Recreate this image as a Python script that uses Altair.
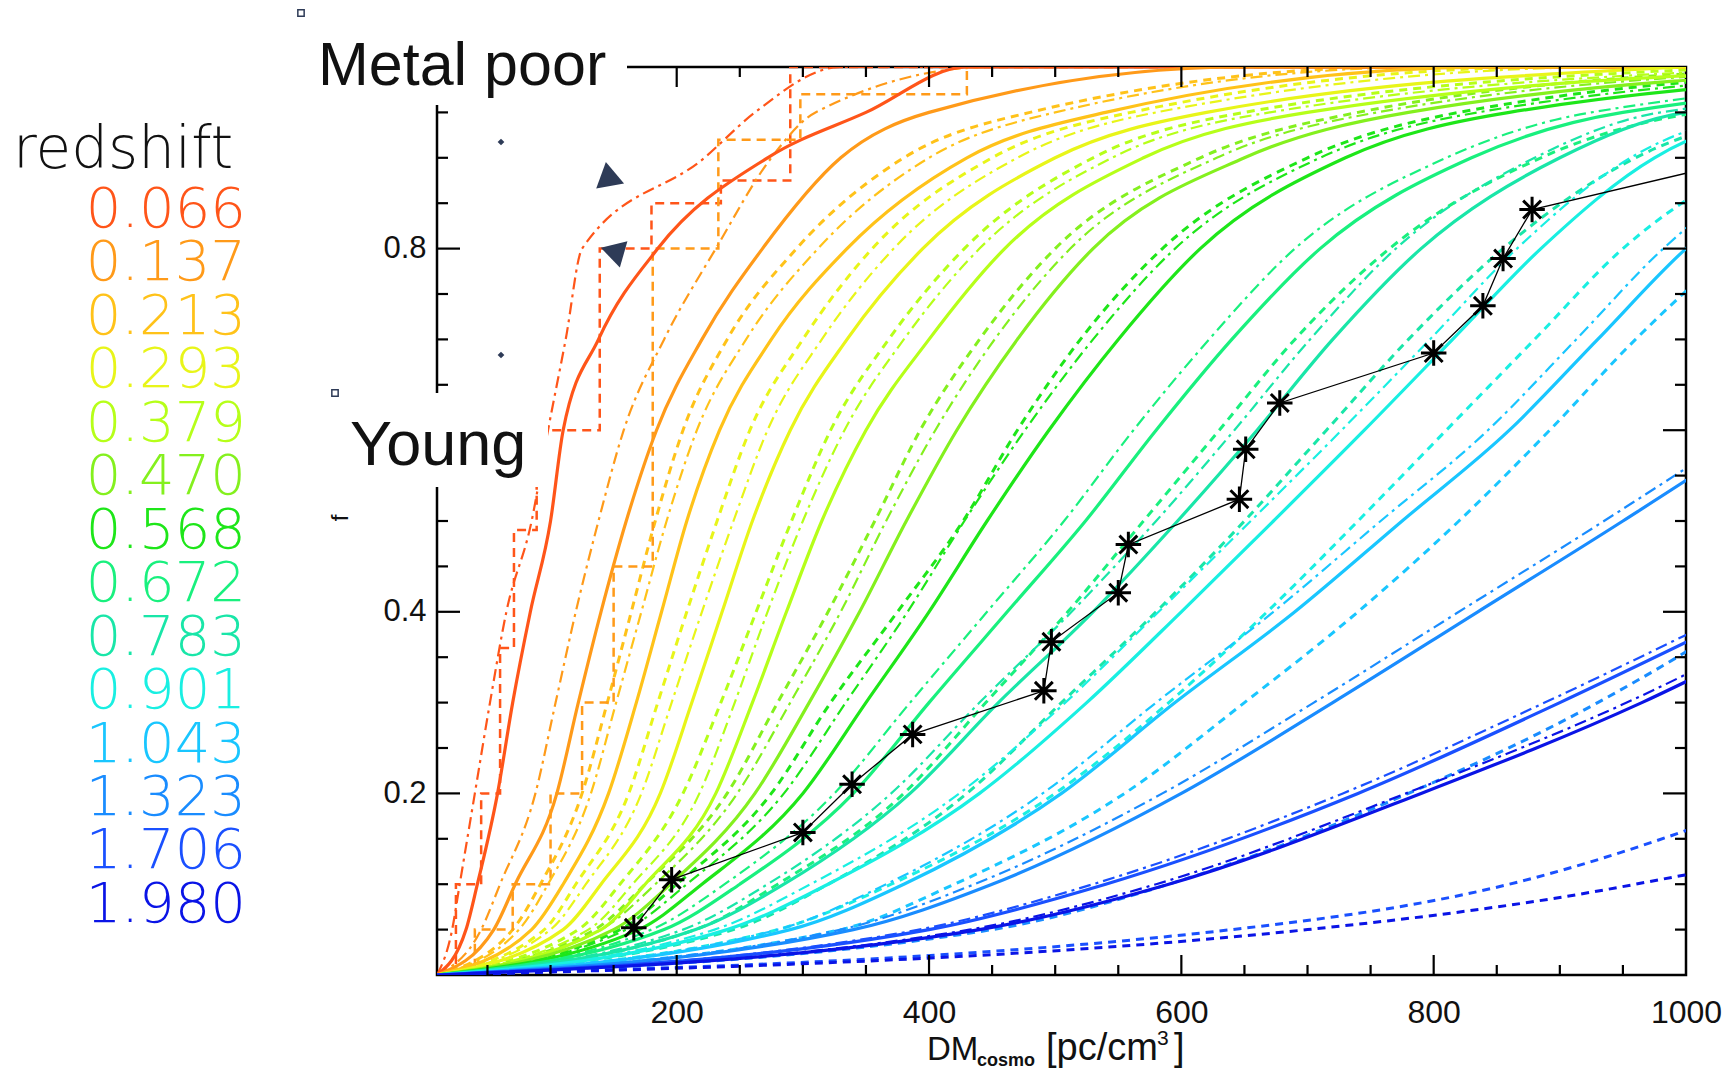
import altair as alt
import pandas as pd

# ---------------- data ----------------
REDSHIFTS = ["0.066", "0.137", "0.213", "0.293", "0.379", "0.470", "0.568",
             "0.672", "0.783", "0.901", "1.043", "1.323", "1.706", "1.980"]
COLORS = ["#ff5519", "#ff9a19", "#ffc219", "#e8f519", "#b6ff19", "#84f01e",
          "#1ee619", "#19f07e", "#19e6a8", "#19efe2", "#19c6ff", "#198cff",
          "#1a50ff", "#0a14e6"]

# cumulative fraction levels at which DM values were read
F_LEVELS = [0, 0.05, 0.1, 0.2, 0.3, 0.4, 0.5, 0.6, 0.7, 0.8, 0.9, 0.95, 1.0]

SOLID_DM = [
    [10, 33, 42, 58, 70, 84, 100, 110, 138, 185, 272, 350, 430],
    [10, 55, 72, 105, 122, 140, 160, 184, 220, 268, 330, 400, 650],
    [10, 85, 110, 146, 168, 188, 208, 234, 275, 335, 430, 540, 850],
    [10, 110, 140, 187, 212, 236, 260, 290, 335, 395, 500, 620, 1000],
    [10, 140, 175, 231, 260, 287, 315, 350, 400, 460, 570, 700, 1150],
    [10, 150, 195, 262, 305, 345, 382, 422, 470, 530, 650, 780, 1200],
    [10, 170, 220, 300, 350, 400, 446, 495, 550, 615, 730, 860, 1300],
    [10, 190, 250, 340, 400, 462, 524, 580, 640, 710, 830, 950, 1400],
    [10, 215, 285, 385, 455, 530, 597, 660, 720, 790, 900, 1000, 1500],
    [10, 240, 320, 440, 525, 600, 673, 745, 815, 885, 975, 1080, 1600],
    [10, 290, 380, 505, 595, 690, 775, 860, 930, 1000, 1100, 1250, 1800],
    [10, 340, 450, 600, 720, 835, 950, 1060, 1160, 1260, 1400, 1550, 2000],
    [10, 400, 540, 740, 900, 1050, 1200, 1330, 1450, 1560, 1700, 1850, 2300],
    [10, 440, 590, 790, 965, 1110, 1250, 1380, 1500, 1620, 1780, 1900, 2400],
]

DASHDOT_DM = [
    [10, 22, 28, 40, 52, 65, 85, 98, 112, 125, 222, 262, 330],
    [10, 45, 60, 88, 104, 120, 138, 158, 190, 231, 275, 310, 450],
    [10, 75, 98, 132, 152, 172, 192, 216, 255, 312, 400, 500, 800],
    [10, 100, 128, 172, 196, 220, 245, 272, 315, 372, 470, 580, 950],
    [10, 130, 165, 218, 246, 272, 300, 333, 380, 440, 545, 670, 1100],
    [10, 140, 183, 248, 290, 330, 366, 405, 452, 512, 628, 755, 1150],
    [10, 160, 208, 285, 334, 383, 428, 476, 530, 595, 710, 835, 1250],
    [10, 180, 238, 325, 385, 446, 507, 562, 622, 690, 810, 925, 1350],
    [10, 205, 272, 370, 440, 513, 580, 642, 702, 770, 880, 980, 1450],
    [10, 230, 306, 424, 508, 582, 655, 727, 797, 866, 956, 1060, 1550],
    [10, 280, 366, 490, 580, 673, 758, 843, 913, 982, 1080, 1230, 1750],
    [10, 330, 436, 585, 705, 820, 935, 1045, 1145, 1245, 1385, 1535, 1980],
    [10, 392, 530, 728, 888, 1038, 1188, 1318, 1438, 1548, 1690, 1840, 2290],
    [10, 432, 580, 778, 953, 1098, 1238, 1368, 1488, 1608, 1770, 1890, 2390],
]

# dashed curves for z >= 0.213 (smooth)
DASHED_DM = [
    None,
    None,
    [10, 70, 92, 125, 145, 164, 183, 205, 240, 295, 380, 480, 780],
    [10, 95, 120, 162, 185, 208, 232, 258, 300, 355, 450, 560, 900],
    [10, 122, 155, 205, 235, 263, 291, 322, 368, 428, 530, 650, 1050],
    [10, 135, 175, 240, 280, 320, 357, 393, 440, 500, 615, 740, 1100],
    [10, 155, 200, 275, 322, 375, 427, 470, 520, 585, 700, 820, 1200],
    [10, 215, 280, 380, 445, 510, 570, 630, 690, 765, 885, 1010, 1500],
    [10, 245, 320, 430, 505, 580, 650, 715, 780, 855, 960, 1080, 1600],
    [10, 280, 370, 500, 590, 668, 740, 810, 880, 950, 1060, 1180, 1700],
    [10, 330, 420, 555, 650, 740, 820, 892, 960, 1040, 1180, 1330, 1850],
    [10, 450, 590, 780, 930, 1050, 1150, 1250, 1350, 1450, 1600, 1750, 2200],
    [10, 640, 860, 1080, 1250, 1380, 1500, 1600, 1700, 1800, 1950, 2050, 2500],
    [10, 700, 960, 1250, 1400, 1550, 1650, 1750, 1850, 1950, 2100, 2200, 2600],
]

# step-like dashed curves for the two lowest redshifts
STEP0_DM = [10, 25, 45, 60, 71, 89, 139, 180, 235, 290]
STEP0_F = [0, 0.1, 0.2, 0.36, 0.49, 0.6, 0.8, 0.85, 0.875, 1.0]
STEP1_DM = [10, 40, 70, 100, 125, 150, 181, 233, 298, 430]
STEP1_F = [0, 0.05, 0.1, 0.2, 0.3, 0.45, 0.8, 0.92, 0.97, 1.0]

# black line with asterisks
STAR_DM = [166, 196, 300, 339, 387, 491, 497, 550, 558, 646, 651, 678, 800, 839, 855, 878]
STAR_F = [0.052, 0.105, 0.157, 0.21, 0.265, 0.313, 0.367, 0.421, 0.474, 0.524,
          0.579, 0.63, 0.685, 0.737, 0.789, 0.843]
LINE_END_DM = [1000]
LINE_END_F = [0.883]

X_MAJOR = [200, 400, 600, 800, 1000]
Y_MAJOR = [0.2, 0.4, 0.6, 0.8]
Y_LABELS = [0.2, 0.4, 0.8]  # 0.6 and 1.0 are hidden behind the white boxes

# ---------------- layout ----------------
W, H = 1249, 908
FONT = "Liberation Sans"


def curve_rows(lists, style, levels):
    rows = []
    for i, xs in enumerate(lists):
        if xs is None:
            continue
        for x, f in zip(xs, levels):
            rows.append({"dm": x, "f": f, "z": REDSHIFTS[i], "cid": f"{style}{i}"})
        if xs[-1] < 1000:
            rows.append({"dm": 1000, "f": 1.0, "z": REDSHIFTS[i], "cid": f"{style}{i}"})
    return pd.DataFrame(rows)


solid_df = curve_rows(SOLID_DM, "s", F_LEVELS)
dashdot_df = curve_rows(DASHDOT_DM, "d", F_LEVELS)
dashed_df = curve_rows(DASHED_DM, "a", F_LEVELS)

step_rows = []
for i, (xs, fs) in enumerate([(STEP0_DM, STEP0_F), (STEP1_DM, STEP1_F)]):
    for x, f in zip(xs, fs):
        step_rows.append({"dm": x, "f": f, "z": REDSHIFTS[i], "cid": f"t{i}"})
    step_rows.append({"dm": 1000, "f": 1.0, "z": REDSHIFTS[i], "cid": f"t{i}"})
step_df = pd.DataFrame(step_rows)

star_df = pd.DataFrame({"dm": STAR_DM, "f": STAR_F})
line_df = pd.DataFrame({"dm": STAR_DM + LINE_END_DM, "f": STAR_F + LINE_END_F})

X_ENC = alt.X("dm:Q", scale=alt.Scale(domain=[10, 1000], nice=False, zero=False),
              axis=alt.Axis(values=X_MAJOR, format="d", tickSize=0, domain=False,
                            grid=False, labelFont=FONT, labelFontSize=32,
                            labelPadding=22, labelFlush=False,
                            labelColor="#111111", title=None))
Y_ENC = alt.Y("f:Q", scale=alt.Scale(domain=[0, 1], nice=False, zero=False),
              axis=alt.Axis(values=Y_LABELS, format=".1f", tickSize=0, domain=False,
                            grid=False, labelFont=FONT, labelFontSize=31,
                            labelPadding=11, labelColor="#111111", title=None))
C_ENC = alt.Color("z:N", scale=alt.Scale(domain=REDSHIFTS, range=COLORS), legend=None)

dashed = alt.Chart(dashed_df).mark_line(
    clip=True, interpolate="monotone", strokeWidth=3, strokeDash=[8, 6]
).encode(x=X_ENC, y=Y_ENC, color=C_ENC, detail="cid:N")

steps = alt.Chart(step_df).mark_line(
    clip=True, interpolate="step-after", strokeWidth=2.5, strokeDash=[9, 6]
).encode(x=X_ENC, y=Y_ENC, color=C_ENC, detail="cid:N")

dashdot = alt.Chart(dashdot_df).mark_line(
    clip=True, interpolate="monotone", strokeWidth=2.2, strokeDash=[12, 5, 3, 5]
).encode(x=X_ENC, y=Y_ENC, color=C_ENC, detail="cid:N")

solid = alt.Chart(solid_df).mark_line(
    clip=True, interpolate="monotone", strokeWidth=3.2
).encode(x=X_ENC, y=Y_ENC, color=C_ENC, detail="cid:N")

black_line = alt.Chart(line_df).mark_line(
    clip=True, color="black", strokeWidth=1.3
).encode(x=X_ENC, y=Y_ENC)

ASTERISK = "M-1,0L1,0M0,-1L0,1M-0.7,-0.7L0.7,0.7M-0.7,0.7L0.7,-0.7"
stars = alt.Chart(star_df).mark_point(
    shape=ASTERISK, filled=False, color="black", strokeWidth=3, size=650, opacity=1
).encode(x=X_ENC, y=Y_ENC)

# ---------- inward ticks ----------
x_minor = [v for v in range(50, 1000, 50) if v % 200 != 0]
y_minor = [round(v * 0.05, 2) for v in range(1, 20) if v % 4 != 0]
xmaj_df = pd.DataFrame({"dm": X_MAJOR[:-1]})
xmin_df = pd.DataFrame({"dm": x_minor})
ymaj_df = pd.DataFrame({"f": Y_MAJOR})
ymin_df = pd.DataFrame({"f": y_minor})

tick_layers = []
for df, L in [(xmaj_df, 20), (xmin_df, 10)]:
    tick_layers.append(alt.Chart(df).mark_rule(color="black", strokeWidth=2.2).encode(
        x=X_ENC, y=alt.value(H), y2=alt.value(H - L)))
    tick_layers.append(alt.Chart(df).mark_rule(color="black", strokeWidth=2.2).encode(
        x=X_ENC, y=alt.value(0), y2=alt.value(L)))
for df, L in [(ymaj_df, 23), (ymin_df, 11)]:
    tick_layers.append(alt.Chart(df).mark_rule(color="black", strokeWidth=2.2).encode(
        y=Y_ENC, x=alt.value(0), x2=alt.value(L)))
    tick_layers.append(alt.Chart(df).mark_rule(color="black", strokeWidth=2.2).encode(
        y=Y_ENC, x=alt.value(W - L), x2=alt.value(W)))

one = pd.DataFrame({"k": [0]})


def box(x1, x2, y1, y2):
    return alt.Chart(one).mark_rect(fill="white").encode(
        x=alt.value(x1), x2=alt.value(x2), y=alt.value(y1), y2=alt.value(y2))


def txt(s, x, y, size, color="#111111", font=FONT, weight="normal", align="left",
        angle=0, baseline="alphabetic"):
    return alt.Chart(one).mark_text(
        text=s, font=font, fontSize=size, fontWeight=weight, color=color,
        align=align, baseline=baseline, angle=angle
    ).encode(x=alt.value(x), y=alt.value(y))


def sym(shape, x, y, size, filled=True, angle=0, color="#2e3b57", sw=1.5):
    return alt.Chart(one).mark_point(
        shape=shape, size=size, filled=filled, color=color, angle=angle,
        strokeWidth=sw, opacity=1
    ).encode(x=alt.value(x), y=alt.value(y))


annot = [
    box(-136, 190, -54, 38),
    box(-102, 111, 326, 420),
    txt("Metal poor", -119, 18, 61),
    txt("Young", -87, 398, 63),
    txt("redshift", -424, 101, 58, color="#111111", font="DejaVu Sans", weight=200),
]
for i, (lab, col) in enumerate(zip(REDSHIFTS, COLORS)):
    annot.append(txt(lab, -191, 160 + i * 53.45, 56, color=col, font="DejaVu Sans",
                     weight=200, align="right"))

# axis titles
annot += [
    txt("f", -96, 451, 24, align="center", angle=270, baseline="middle"),
    txt("DM", 490, 993, 33),
    txt("cosmo", 540, 999, 18, weight="bold"),
    txt("[pc/cm", 609, 993, 38),
    txt("3", 720, 978, 21),
    txt("]", 737, 993, 38),
]

# decorative markers
annot += [
    sym("triangle-up", 171, 107, 800, angle=350),
    sym("triangle-down", 180, 189, 750, angle=346),
    sym("diamond", 64, 75, 45),
    sym("diamond", 64, 288, 45),
    sym("square", -136, -54, 40, filled=False),
    sym("square", -102, 326, 40, filled=False),
]

chart = alt.layer(
    dashed, steps, dashdot, solid, *tick_layers, black_line, stars, *annot
).properties(
    width=W, height=H,
    autosize=alt.AutoSizeParams(type="none"),
    padding={"left": 429, "top": 59, "right": 40, "bottom": 94},
    background="white",
).configure_view(
    stroke="black", strokeWidth=2.5
)

chart.save("out.html", embed_options={"renderer": "svg", "actions": False})
